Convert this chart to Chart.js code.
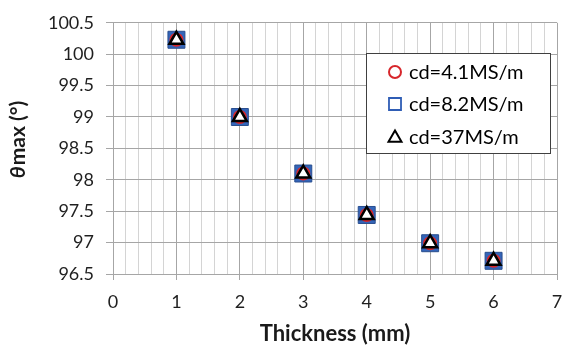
<!DOCTYPE html>
<html>
<head>
<meta charset="utf-8">
<script src="https://cdn.jsdelivr.net/npm/chart.js@4"></script>
<style>
  html, body { margin: 0; padding: 0; background: #fff; }
  #wrap { width: 563px; height: 347px; }
</style>
</head>
<body>
<div id="wrap"><canvas id="c" width="563" height="347"></canvas></div>
<script>
const thickness = [1, 2, 3, 4, 5, 6];
const cd41 = [100.23, 99.0, 98.1, 97.44, 96.99, 96.71];
const cd82 = [100.23, 99.0, 98.1, 97.44, 96.99, 96.71];
const cd37 = [100.23, 99.0, 98.1, 97.44, 96.99, 96.71];
const seriesNames = ["cd=4.1MS/m", "cd=8.2MS/m", "cd=37MS/m"];
const yTicks = [96.5, 97, 97.5, 98, 98.5, 99, 99.5, 100, 100.5];

const FONT = "Lato, 'Open Sans', sans-serif";
const isInt = v => Math.abs(v - Math.round(v)) < 1e-6;
const pts = arr => thickness.map((x, i) => ({ x: x, y: arr[i] }));

// legend box drawn inside the plot area + y title with italic theta
const extras = {
  id: "extras",
  afterDraw(chart) {
    const ctx = chart.ctx;
    const x0 = 366, y0 = 53, w = 184, h = 100;
    ctx.save();
    ctx.fillStyle = "#fff";
    ctx.fillRect(x0, y0, w, h);
    ctx.strokeStyle = "#404040";
    ctx.lineWidth = 1;
    ctx.strokeRect(x0 + 0.5, y0 + 0.5, w, h);
    const rows = [72, 104, 137];
    const styles = [
      { pointStyle: "circle", radius: 6, borderWidth: 2, color: "#D7262B" },
      { pointStyle: "rect", radius: 8.5, borderWidth: 1.8, color: "#2F5DB5" },
      { pointStyle: "triangle", radius: 7.5, borderWidth: 2, color: "#000" }
    ];
    ctx.font = "20px " + FONT;
    ctx.textBaseline = "middle";
    rows.forEach((y, i) => {
      const s = styles[i];
      ctx.strokeStyle = s.color;
      ctx.lineWidth = s.borderWidth;
      ctx.fillStyle = "rgba(0,0,0,0)";
      Chart.helpers.drawPoint(ctx, { pointStyle: s.pointStyle, radius: s.radius, rotation: 0, borderWidth: s.borderWidth }, 395, y + (i === 2 ? 1 : 0));
      ctx.fillStyle = "#000";
      ctx.fillText(seriesNames[i], 409, y + 1);
    });

    // y axis title
    ctx.translate(18, 140);
    ctx.rotate(-Math.PI / 2);
    ctx.textBaseline = "middle";
    ctx.fillStyle = "#1a1a1a";
    const f1 = "italic bold 21px " + FONT;
    const f2 = "bold 21px " + FONT;
    ctx.font = f1;
    const w1 = ctx.measureText("θ").width;
    ctx.font = f2;
    const w2 = ctx.measureText("max (°)").width;
    let x = -(w1 + w2) / 2;
    ctx.font = f1;
    ctx.fillText("θ", x, 0);
    ctx.font = f2;
    ctx.fillText("max (°)", x + w1 + 1, 0);
    ctx.restore();
  }
};

new Chart(document.getElementById("c"), {
  type: "scatter",
  data: {
    datasets: [
      {
        label: seriesNames[1],
        data: pts(cd82),
        pointStyle: "rect",
        pointRadius: 12,
        backgroundColor: "#3465B9",
        borderColor: "#2A4F8F",
        borderWidth: 1,
        order: 3
      },
      {
        label: seriesNames[0],
        data: pts(cd41),
        pointStyle: "circle",
        pointRadius: 6,
        backgroundColor: "rgba(0,0,0,0)",
        borderColor: "#D7262B",
        borderWidth: 2,
        order: 2
      },
      {
        label: seriesNames[2],
        data: pts(cd37),
        pointStyle: "triangle",
        pointRadius: 8,
        backgroundColor: "#fff",
        borderColor: "#000",
        borderWidth: 2.5,
        order: 1
      }
    ]
  },
  options: {
    responsive: false,
    animation: false,
    layout: { autoPadding: false, padding: { left: 0, right: 6, top: 16, bottom: 0 } },
    plugins: {
      legend: { display: false },
      tooltip: { enabled: false }
    },
    scales: {
      x: {
        type: "linear",
        min: 0,
        max: 7,
        afterBuildTicks(scale) {
          const t = [];
          for (let k = 0; k <= 35; k++) t.push({ value: k / 5 });
          scale.ticks = t;
        },
        afterFit(scale) { scale.height = 73; scale.paddingRight = 0; },
        border: { color: "#a6a6a6", width: 1 },
        grid: {
          color: ctx => isInt(ctx.tick.value) ? "#a6a6a6" : "#d4d4d4",
          tickColor: ctx => isInt(ctx.tick.value) ? "#a6a6a6" : "rgba(0,0,0,0)",
          tickLength: 6,
          lineWidth: 1
        },
        ticks: {
          autoSkip: false,
          maxRotation: 0,
          padding: 11,
          color: "#1f1f1f",
          font: { family: FONT, size: 18 },
          callback: v => isInt(v) ? String(Math.round(v)) : ""
        },
        title: {
          display: true,
          text: "Thickness (mm)",
          color: "#1a1a1a",
          font: { family: FONT, size: 22, weight: "bold" },
          padding: { top: 11, bottom: 0 }
        }
      },
      y: {
        min: 96.5,
        max: 100.5,
        afterBuildTicks(scale) { scale.ticks = yTicks.map(v => ({ value: v })); },
        afterFit(scale) { scale.width = 113; },
        border: { color: "#a6a6a6", width: 1 },
        grid: { color: "#a6a6a6", tickColor: "#a6a6a6", tickLength: 7, lineWidth: 1 },
        ticks: {
          padding: 12,
          color: "#1f1f1f",
          font: { family: FONT, size: 18 },
          callback: v => String(v)
        },
        title: { display: false }
      }
    }
  },
  plugins: [extras]
});
</script>
</body>
</html>
